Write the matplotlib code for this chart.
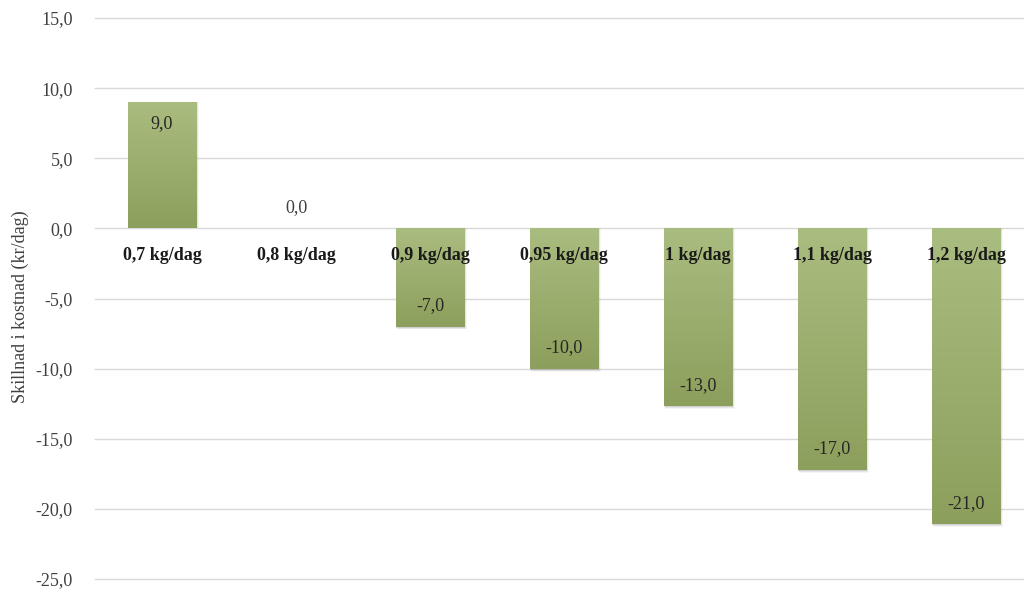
import numpy as np
import matplotlib.pyplot as plt
from matplotlib.colors import LinearSegmentedColormap

categories = ['0,7 kg/dag', '0,8 kg/dag', '0,9 kg/dag', '0,95 kg/dag', '1 kg/dag', '1,1 kg/dag', '1,2 kg/dag']
values = [9.0, 0.0, -7.0, -10.0, -12.7, -17.2, -21.1]
value_labels = ['9,0', '0,0', '-7,0', '-10,0', '-13,0', '-17,0', '-21,0']
yticks = [15, 10, 5, 0, -5, -10, -15, -20, -25]

plt.rcParams['font.family'] = ['Liberation Serif', 'DejaVu Serif']

fig = plt.figure(figsize=(10.24, 5.9), dpi=100)
ax = fig.add_axes([95 / 1024, 11 / 590, 938 / 1024, 561 / 590])

x = np.arange(len(categories))
ax.set_xlim(-0.5, len(categories) - 0.5)
ax.set_ylim(-25, 15)

for t in yticks:
    ax.axhline(t, color='#d9d9d9', lw=1, zorder=0, clip_on=False)

grad = LinearSegmentedColormap.from_list('g', ['#8c9f5c', '#aabd80'])
bars = ax.bar(x, values, width=0.51, color='#9db170', zorder=2)
for b, v in zip(bars, values):
    if v == 0:
        continue
    x0 = b.get_x()
    x1 = x0 + b.get_width()
    y0, y1 = min(0, v), max(0, v)
    # soft shadow
    for k, a in enumerate([0.18, 0.12, 0.06]):
        d = 0.07 * (k + 1)
        ax.bar(b.get_x() + b.get_width() / 2 + 0.004 * (k + 1), v - d if v < 0 else v,
               width=0.51 + 0.006 * k, bottom=0, color='#707070', alpha=a, zorder=1, lw=0)
    img = ax.imshow(np.linspace(1, 0, 100).reshape(-1, 1), cmap=grad, aspect='auto',
                    extent=[x0, x1, y0, y1], zorder=2.5)
    img.set_clip_path(b)

for xi, v, lab in zip(x, values, value_labels):
    if v > 0:
        ax.text(xi, v - 1.5, lab, ha='center', va='center', fontsize=13, color='#262626', zorder=4)
    elif v < 0:
        ax.text(xi, v + 1.5, lab, ha='center', va='center', fontsize=13, color='#262626', zorder=4)
    else:
        ax.text(xi, 1.45, lab, ha='center', va='center', fontsize=13, color='#404040', zorder=4)

for xi, c in zip(x, categories):
    ax.text(xi, -1.95, c, ha='center', va='center', fontsize=13, fontweight='bold',
            color='#1a1a1a', zorder=4)

ax.set_xticks([])
ax.set_yticks(yticks)
ax.set_yticklabels([f'{t:.1f}'.replace('.', ',') for t in yticks], fontsize=13, color='#404040')
ax.tick_params(axis='y', length=0, pad=16)
for s in ax.spines.values():
    s.set_visible(False)

fig.text(20 / 1024, 1 - 307 / 590, 'Skillnad i kostnad (kr/dag)', rotation=90,
         ha='center', va='center', fontsize=13, color='#404040')

fig.savefig('out.png', dpi=100)
